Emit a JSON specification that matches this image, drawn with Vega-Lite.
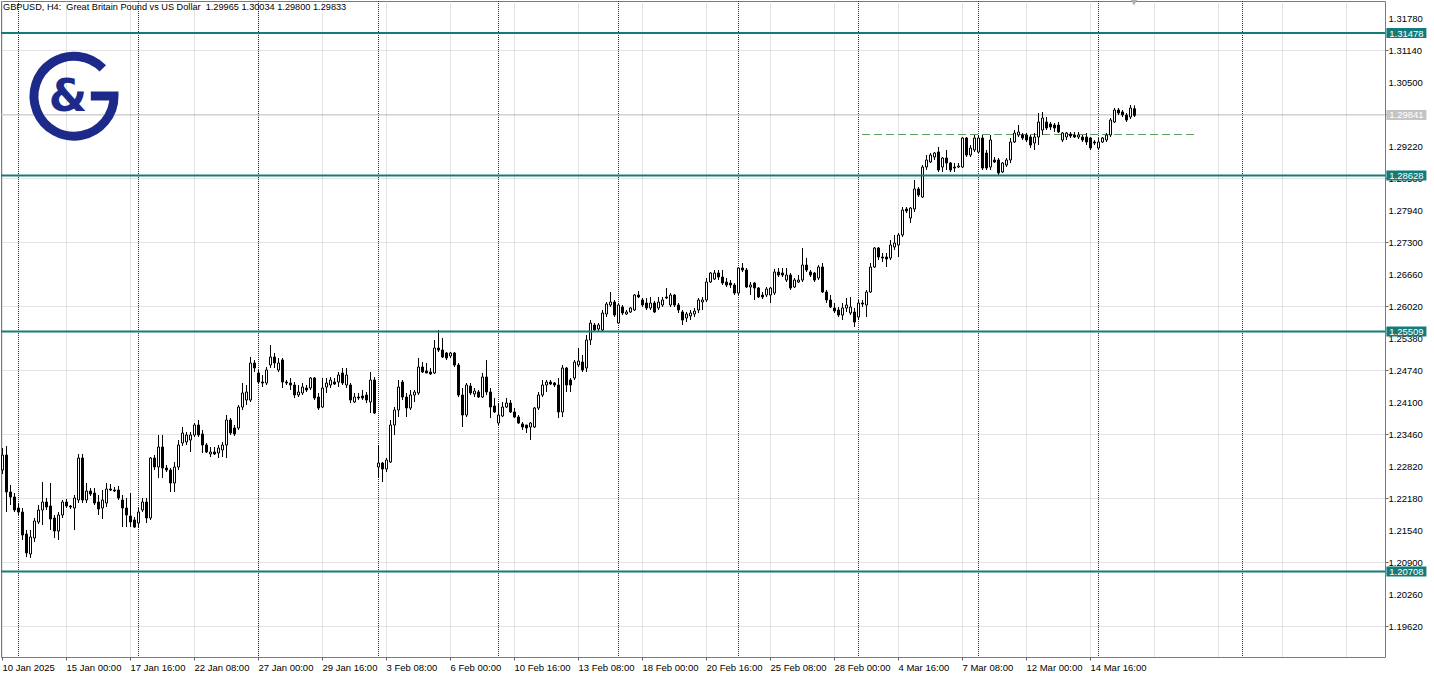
{
  "$schema": "https://vega.github.io/schema/vega-lite/v6.json",
  "width": 1384,
  "height": 656,
  "autosize": {"type": "none"},
  "padding": {"left": 1, "top": 1, "right": 49, "bottom": 17},
  "background": "#ffffff",
  "config": {
    "view": {"stroke": "#7a7a7a", "strokeWidth": 1},
    "font": "Liberation Sans",
    "axis": {"labelOverlap": false, "labelBound": false, "labelFlush": false},
    "scale": {"continuousPadding": 0}
  },
  "datasets": {
    "bars": [
      {"bar":-4,"o":1.2274,"h":1.2318,"l":1.2266,"c":1.2304},
      {"bar":-3,"o":1.2304,"h":1.2322,"l":1.2190,"c":1.2230},
      {"bar":-2,"o":1.2230,"h":1.2244,"l":1.2204,"c":1.2220},
      {"bar":-1,"o":1.2220,"h":1.2228,"l":1.2190,"c":1.2194},
      {"bar":0,"o":1.2198,"h":1.2208,"l":1.2184,"c":1.2190},
      {"bar":1,"o":1.2190,"h":1.2198,"l":1.2134,"c":1.2144},
      {"bar":2,"o":1.2146,"h":1.2154,"l":1.2100,"c":1.2108},
      {"bar":3,"o":1.2106,"h":1.2154,"l":1.2098,"c":1.2140},
      {"bar":4,"o":1.2138,"h":1.2178,"l":1.2130,"c":1.2172},
      {"bar":5,"o":1.2170,"h":1.2204,"l":1.2166,"c":1.2194},
      {"bar":6,"o":1.2194,"h":1.2250,"l":1.2164,"c":1.2210},
      {"bar":7,"o":1.2210,"h":1.2218,"l":1.2194,"c":1.2200},
      {"bar":8,"o":1.2202,"h":1.2248,"l":1.2154,"c":1.2176},
      {"bar":9,"o":1.2178,"h":1.2184,"l":1.2138,"c":1.2152},
      {"bar":10,"o":1.2152,"h":1.2190,"l":1.2134,"c":1.2184},
      {"bar":11,"o":1.2184,"h":1.2214,"l":1.2178,"c":1.2210},
      {"bar":12,"o":1.2210,"h":1.2216,"l":1.2198,"c":1.2202},
      {"bar":13,"o":1.2202,"h":1.2204,"l":1.2196,"c":1.2200},
      {"bar":14,"o":1.2198,"h":1.2224,"l":1.2154,"c":1.2218},
      {"bar":15,"o":1.2214,"h":1.2306,"l":1.2208,"c":1.2298},
      {"bar":16,"o":1.2298,"h":1.2306,"l":1.2208,"c":1.2214},
      {"bar":17,"o":1.2214,"h":1.2248,"l":1.2208,"c":1.2232},
      {"bar":18,"o":1.2232,"h":1.2238,"l":1.2222,"c":1.2226},
      {"bar":19,"o":1.2228,"h":1.2238,"l":1.2204,"c":1.2208},
      {"bar":20,"o":1.2210,"h":1.2224,"l":1.2184,"c":1.2196},
      {"bar":21,"o":1.2198,"h":1.2234,"l":1.2176,"c":1.2214},
      {"bar":22,"o":1.2208,"h":1.2248,"l":1.2200,"c":1.2236},
      {"bar":23,"o":1.2236,"h":1.2246,"l":1.2232,"c":1.2234},
      {"bar":24,"o":1.2234,"h":1.2240,"l":1.2230,"c":1.2232},
      {"bar":25,"o":1.2234,"h":1.2242,"l":1.2214,"c":1.2218},
      {"bar":26,"o":1.2214,"h":1.2224,"l":1.2160,"c":1.2198},
      {"bar":27,"o":1.2198,"h":1.2218,"l":1.2160,"c":1.2184},
      {"bar":28,"o":1.2182,"h":1.2228,"l":1.2160,"c":1.2170},
      {"bar":29,"o":1.2174,"h":1.2180,"l":1.2158,"c":1.2160},
      {"bar":30,"o":1.2168,"h":1.2198,"l":1.2158,"c":1.2190},
      {"bar":31,"o":1.2194,"h":1.2218,"l":1.2190,"c":1.2210},
      {"bar":32,"o":1.2210,"h":1.2218,"l":1.2168,"c":1.2178},
      {"bar":33,"o":1.2178,"h":1.2300,"l":1.2174,"c":1.2298},
      {"bar":34,"o":1.2298,"h":1.2304,"l":1.2274,"c":1.2280},
      {"bar":35,"o":1.2280,"h":1.2344,"l":1.2258,"c":1.2320},
      {"bar":36,"o":1.2320,"h":1.2344,"l":1.2258,"c":1.2278},
      {"bar":37,"o":1.2278,"h":1.2284,"l":1.2270,"c":1.2274},
      {"bar":38,"o":1.2274,"h":1.2278,"l":1.2230,"c":1.2248},
      {"bar":39,"o":1.2248,"h":1.2290,"l":1.2230,"c":1.2280},
      {"bar":40,"o":1.2280,"h":1.2334,"l":1.2274,"c":1.2324},
      {"bar":41,"o":1.2328,"h":1.2360,"l":1.2322,"c":1.2348},
      {"bar":42,"o":1.2330,"h":1.2350,"l":1.2324,"c":1.2344},
      {"bar":43,"o":1.2334,"h":1.2350,"l":1.2310,"c":1.2344},
      {"bar":44,"o":1.2344,"h":1.2368,"l":1.2340,"c":1.2364},
      {"bar":45,"o":1.2364,"h":1.2374,"l":1.2340,"c":1.2344},
      {"bar":46,"o":1.2346,"h":1.2354,"l":1.2308,"c":1.2324},
      {"bar":47,"o":1.2324,"h":1.2328,"l":1.2308,"c":1.2310},
      {"bar":48,"o":1.2306,"h":1.2320,"l":1.2300,"c":1.2310},
      {"bar":49,"o":1.2310,"h":1.2320,"l":1.2304,"c":1.2306},
      {"bar":50,"o":1.2308,"h":1.2324,"l":1.2298,"c":1.2318},
      {"bar":51,"o":1.2314,"h":1.2330,"l":1.2300,"c":1.2324},
      {"bar":52,"o":1.2324,"h":1.2384,"l":1.2298,"c":1.2374},
      {"bar":53,"o":1.2374,"h":1.2378,"l":1.2344,"c":1.2348},
      {"bar":54,"o":1.2358,"h":1.2364,"l":1.2342,"c":1.2346},
      {"bar":55,"o":1.2358,"h":1.2404,"l":1.2354,"c":1.2400},
      {"bar":56,"o":1.2400,"h":1.2448,"l":1.2394,"c":1.2428},
      {"bar":57,"o":1.2414,"h":1.2444,"l":1.2404,"c":1.2430},
      {"bar":58,"o":1.2414,"h":1.2500,"l":1.2410,"c":1.2488},
      {"bar":59,"o":1.2488,"h":1.2494,"l":1.2470,"c":1.2478},
      {"bar":60,"o":1.2468,"h":1.2474,"l":1.2446,"c":1.2450},
      {"bar":61,"o":1.2450,"h":1.2464,"l":1.2440,"c":1.2448},
      {"bar":62,"o":1.2448,"h":1.2480,"l":1.2444,"c":1.2474},
      {"bar":63,"o":1.2484,"h":1.2524,"l":1.2478,"c":1.2500},
      {"bar":64,"o":1.2500,"h":1.2508,"l":1.2478,"c":1.2488},
      {"bar":65,"o":1.2474,"h":1.2498,"l":1.2470,"c":1.2488},
      {"bar":66,"o":1.2494,"h":1.2498,"l":1.2438,"c":1.2450},
      {"bar":67,"o":1.2450,"h":1.2454,"l":1.2444,"c":1.2448},
      {"bar":68,"o":1.2448,"h":1.2458,"l":1.2434,"c":1.2444},
      {"bar":69,"o":1.2444,"h":1.2450,"l":1.2418,"c":1.2424},
      {"bar":70,"o":1.2424,"h":1.2444,"l":1.2420,"c":1.2430},
      {"bar":71,"o":1.2428,"h":1.2448,"l":1.2424,"c":1.2440},
      {"bar":72,"o":1.2438,"h":1.2444,"l":1.2430,"c":1.2434},
      {"bar":73,"o":1.2438,"h":1.2460,"l":1.2434,"c":1.2458},
      {"bar":74,"o":1.2458,"h":1.2460,"l":1.2414,"c":1.2418},
      {"bar":75,"o":1.2420,"h":1.2428,"l":1.2394,"c":1.2398},
      {"bar":76,"o":1.2400,"h":1.2458,"l":1.2398,"c":1.2438},
      {"bar":77,"o":1.2440,"h":1.2458,"l":1.2428,"c":1.2448},
      {"bar":78,"o":1.2444,"h":1.2460,"l":1.2438,"c":1.2454},
      {"bar":79,"o":1.2450,"h":1.2458,"l":1.2444,"c":1.2446},
      {"bar":80,"o":1.2450,"h":1.2470,"l":1.2440,"c":1.2464},
      {"bar":81,"o":1.2468,"h":1.2478,"l":1.2444,"c":1.2448},
      {"bar":82,"o":1.2444,"h":1.2478,"l":1.2438,"c":1.2464},
      {"bar":83,"o":1.2444,"h":1.2448,"l":1.2408,"c":1.2414},
      {"bar":84,"o":1.2410,"h":1.2428,"l":1.2408,"c":1.2420},
      {"bar":85,"o":1.2420,"h":1.2428,"l":1.2414,"c":1.2418},
      {"bar":86,"o":1.2422,"h":1.2434,"l":1.2414,"c":1.2418},
      {"bar":87,"o":1.2424,"h":1.2430,"l":1.2408,"c":1.2414},
      {"bar":88,"o":1.2410,"h":1.2470,"l":1.2388,"c":1.2454},
      {"bar":89,"o":1.2454,"h":1.2460,"l":1.2386,"c":1.2388},
      {"bar":90,"o":1.2280,"h":1.2324,"l":1.2258,"c":1.2288},
      {"bar":91,"o":1.2288,"h":1.2290,"l":1.2250,"c":1.2276},
      {"bar":92,"o":1.2276,"h":1.2298,"l":1.2270,"c":1.2294},
      {"bar":93,"o":1.2290,"h":1.2374,"l":1.2288,"c":1.2364},
      {"bar":94,"o":1.2364,"h":1.2400,"l":1.2344,"c":1.2394},
      {"bar":95,"o":1.2394,"h":1.2454,"l":1.2380,"c":1.2440},
      {"bar":96,"o":1.2450,"h":1.2454,"l":1.2414,"c":1.2420},
      {"bar":97,"o":1.2420,"h":1.2428,"l":1.2380,"c":1.2398},
      {"bar":98,"o":1.2398,"h":1.2434,"l":1.2394,"c":1.2424},
      {"bar":99,"o":1.2424,"h":1.2434,"l":1.2410,"c":1.2430},
      {"bar":100,"o":1.2428,"h":1.2498,"l":1.2424,"c":1.2480},
      {"bar":101,"o":1.2480,"h":1.2490,"l":1.2468,"c":1.2470},
      {"bar":102,"o":1.2472,"h":1.2488,"l":1.2468,"c":1.2468},
      {"bar":103,"o":1.2470,"h":1.2478,"l":1.2464,"c":1.2466},
      {"bar":104,"o":1.2468,"h":1.2534,"l":1.2466,"c":1.2518},
      {"bar":105,"o":1.2518,"h":1.2554,"l":1.2510,"c":1.2514},
      {"bar":106,"o":1.2514,"h":1.2538,"l":1.2498,"c":1.2500},
      {"bar":107,"o":1.2508,"h":1.2510,"l":1.2494,"c":1.2498},
      {"bar":108,"o":1.2502,"h":1.2510,"l":1.2498,"c":1.2508},
      {"bar":109,"o":1.2508,"h":1.2510,"l":1.2480,"c":1.2484},
      {"bar":110,"o":1.2484,"h":1.2488,"l":1.2420,"c":1.2424},
      {"bar":111,"o":1.2424,"h":1.2438,"l":1.2360,"c":1.2384},
      {"bar":112,"o":1.2384,"h":1.2448,"l":1.2380,"c":1.2444},
      {"bar":113,"o":1.2442,"h":1.2448,"l":1.2424,"c":1.2428},
      {"bar":114,"o":1.2426,"h":1.2438,"l":1.2420,"c":1.2432},
      {"bar":115,"o":1.2430,"h":1.2434,"l":1.2418,"c":1.2420},
      {"bar":116,"o":1.2420,"h":1.2468,"l":1.2418,"c":1.2460},
      {"bar":117,"o":1.2460,"h":1.2494,"l":1.2424,"c":1.2430},
      {"bar":118,"o":1.2430,"h":1.2438,"l":1.2378,"c":1.2400},
      {"bar":119,"o":1.2402,"h":1.2418,"l":1.2388,"c":1.2390},
      {"bar":120,"o":1.2368,"h":1.2408,"l":1.2364,"c":1.2384},
      {"bar":121,"o":1.2382,"h":1.2410,"l":1.2380,"c":1.2400},
      {"bar":122,"o":1.2400,"h":1.2418,"l":1.2398,"c":1.2408},
      {"bar":123,"o":1.2408,"h":1.2414,"l":1.2388,"c":1.2390},
      {"bar":124,"o":1.2390,"h":1.2398,"l":1.2378,"c":1.2380},
      {"bar":125,"o":1.2380,"h":1.2384,"l":1.2366,"c":1.2368},
      {"bar":126,"o":1.2366,"h":1.2370,"l":1.2354,"c":1.2360},
      {"bar":127,"o":1.2364,"h":1.2364,"l":1.2348,"c":1.2358},
      {"bar":128,"o":1.2360,"h":1.2370,"l":1.2334,"c":1.2368},
      {"bar":129,"o":1.2360,"h":1.2400,"l":1.2358,"c":1.2398},
      {"bar":130,"o":1.2398,"h":1.2430,"l":1.2394,"c":1.2424},
      {"bar":131,"o":1.2424,"h":1.2454,"l":1.2420,"c":1.2444},
      {"bar":132,"o":1.2444,"h":1.2454,"l":1.2430,"c":1.2450},
      {"bar":133,"o":1.2450,"h":1.2454,"l":1.2444,"c":1.2446},
      {"bar":134,"o":1.2448,"h":1.2450,"l":1.2440,"c":1.2444},
      {"bar":135,"o":1.2444,"h":1.2458,"l":1.2378,"c":1.2390},
      {"bar":136,"o":1.2390,"h":1.2484,"l":1.2380,"c":1.2478},
      {"bar":137,"o":1.2478,"h":1.2480,"l":1.2430,"c":1.2444},
      {"bar":138,"o":1.2454,"h":1.2458,"l":1.2430,"c":1.2444},
      {"bar":139,"o":1.2458,"h":1.2494,"l":1.2454,"c":1.2490},
      {"bar":140,"o":1.2484,"h":1.2518,"l":1.2480,"c":1.2492},
      {"bar":141,"o":1.2490,"h":1.2504,"l":1.2470,"c":1.2474},
      {"bar":142,"o":1.2478,"h":1.2544,"l":1.2470,"c":1.2534},
      {"bar":143,"o":1.2534,"h":1.2574,"l":1.2524,"c":1.2568},
      {"bar":144,"o":1.2564,"h":1.2568,"l":1.2550,"c":1.2554},
      {"bar":145,"o":1.2556,"h":1.2568,"l":1.2552,"c":1.2564},
      {"bar":146,"o":1.2554,"h":1.2594,"l":1.2550,"c":1.2588},
      {"bar":147,"o":1.2586,"h":1.2610,"l":1.2580,"c":1.2606},
      {"bar":148,"o":1.2604,"h":1.2630,"l":1.2600,"c":1.2610},
      {"bar":149,"o":1.2610,"h":1.2614,"l":1.2580,"c":1.2584},
      {"bar":150,"o":1.2568,"h":1.2608,"l":1.2566,"c":1.2604},
      {"bar":151,"o":1.2600,"h":1.2604,"l":1.2584,"c":1.2588},
      {"bar":152,"o":1.2586,"h":1.2594,"l":1.2584,"c":1.2590},
      {"bar":153,"o":1.2590,"h":1.2600,"l":1.2588,"c":1.2598},
      {"bar":154,"o":1.2594,"h":1.2626,"l":1.2592,"c":1.2624},
      {"bar":155,"o":1.2624,"h":1.2632,"l":1.2618,"c":1.2620},
      {"bar":156,"o":1.2614,"h":1.2618,"l":1.2600,"c":1.2604},
      {"bar":157,"o":1.2608,"h":1.2618,"l":1.2594,"c":1.2598},
      {"bar":158,"o":1.2598,"h":1.2620,"l":1.2594,"c":1.2608},
      {"bar":159,"o":1.2608,"h":1.2612,"l":1.2588,"c":1.2590},
      {"bar":160,"o":1.2598,"h":1.2620,"l":1.2594,"c":1.2610},
      {"bar":161,"o":1.2604,"h":1.2620,"l":1.2600,"c":1.2614},
      {"bar":162,"o":1.2620,"h":1.2638,"l":1.2616,"c":1.2618},
      {"bar":163,"o":1.2604,"h":1.2628,"l":1.2600,"c":1.2624},
      {"bar":164,"o":1.2624,"h":1.2626,"l":1.2600,"c":1.2604},
      {"bar":165,"o":1.2604,"h":1.2608,"l":1.2588,"c":1.2594},
      {"bar":166,"o":1.2590,"h":1.2594,"l":1.2564,"c":1.2574},
      {"bar":167,"o":1.2578,"h":1.2590,"l":1.2570,"c":1.2586},
      {"bar":168,"o":1.2582,"h":1.2594,"l":1.2574,"c":1.2588},
      {"bar":169,"o":1.2586,"h":1.2598,"l":1.2580,"c":1.2592},
      {"bar":170,"o":1.2594,"h":1.2618,"l":1.2588,"c":1.2614},
      {"bar":171,"o":1.2610,"h":1.2620,"l":1.2594,"c":1.2614},
      {"bar":172,"o":1.2614,"h":1.2658,"l":1.2610,"c":1.2650},
      {"bar":173,"o":1.2650,"h":1.2670,"l":1.2648,"c":1.2668},
      {"bar":174,"o":1.2656,"h":1.2674,"l":1.2654,"c":1.2668},
      {"bar":175,"o":1.2668,"h":1.2674,"l":1.2654,"c":1.2660},
      {"bar":176,"o":1.2660,"h":1.2674,"l":1.2644,"c":1.2648},
      {"bar":177,"o":1.2650,"h":1.2658,"l":1.2640,"c":1.2644},
      {"bar":178,"o":1.2648,"h":1.2654,"l":1.2638,"c":1.2644},
      {"bar":179,"o":1.2644,"h":1.2648,"l":1.2624,"c":1.2628},
      {"bar":180,"o":1.2628,"h":1.2680,"l":1.2624,"c":1.2678},
      {"bar":181,"o":1.2678,"h":1.2688,"l":1.2670,"c":1.2674},
      {"bar":182,"o":1.2674,"h":1.2678,"l":1.2638,"c":1.2640},
      {"bar":183,"o":1.2640,"h":1.2650,"l":1.2624,"c":1.2644},
      {"bar":184,"o":1.2648,"h":1.2650,"l":1.2614,"c":1.2638},
      {"bar":185,"o":1.2638,"h":1.2640,"l":1.2618,"c":1.2620},
      {"bar":186,"o":1.2624,"h":1.2630,"l":1.2616,"c":1.2620},
      {"bar":187,"o":1.2624,"h":1.2640,"l":1.2620,"c":1.2636},
      {"bar":188,"o":1.2624,"h":1.2640,"l":1.2608,"c":1.2638},
      {"bar":189,"o":1.2628,"h":1.2676,"l":1.2624,"c":1.2670},
      {"bar":190,"o":1.2670,"h":1.2678,"l":1.2660,"c":1.2664},
      {"bar":191,"o":1.2668,"h":1.2678,"l":1.2660,"c":1.2664},
      {"bar":192,"o":1.2654,"h":1.2678,"l":1.2650,"c":1.2664},
      {"bar":193,"o":1.2664,"h":1.2668,"l":1.2634,"c":1.2638},
      {"bar":194,"o":1.2640,"h":1.2658,"l":1.2638,"c":1.2654},
      {"bar":195,"o":1.2650,"h":1.2664,"l":1.2648,"c":1.2654},
      {"bar":196,"o":1.2654,"h":1.2718,"l":1.2650,"c":1.2684},
      {"bar":197,"o":1.2684,"h":1.2698,"l":1.2670,"c":1.2674},
      {"bar":198,"o":1.2670,"h":1.2674,"l":1.2660,"c":1.2664},
      {"bar":199,"o":1.2668,"h":1.2670,"l":1.2650,"c":1.2654},
      {"bar":200,"o":1.2658,"h":1.2684,"l":1.2654,"c":1.2680},
      {"bar":201,"o":1.2680,"h":1.2688,"l":1.2628,"c":1.2630},
      {"bar":202,"o":1.2630,"h":1.2634,"l":1.2608,"c":1.2614},
      {"bar":203,"o":1.2614,"h":1.2624,"l":1.2598,"c":1.2600},
      {"bar":204,"o":1.2598,"h":1.2608,"l":1.2588,"c":1.2592},
      {"bar":205,"o":1.2594,"h":1.2600,"l":1.2580,"c":1.2584},
      {"bar":206,"o":1.2584,"h":1.2608,"l":1.2574,"c":1.2598},
      {"bar":207,"o":1.2598,"h":1.2618,"l":1.2590,"c":1.2604},
      {"bar":208,"o":1.2588,"h":1.2620,"l":1.2584,"c":1.2600},
      {"bar":209,"o":1.2590,"h":1.2598,"l":1.2560,"c":1.2570},
      {"bar":210,"o":1.2580,"h":1.2614,"l":1.2574,"c":1.2608},
      {"bar":211,"o":1.2608,"h":1.2614,"l":1.2600,"c":1.2606},
      {"bar":212,"o":1.2604,"h":1.2634,"l":1.2580,"c":1.2630},
      {"bar":213,"o":1.2630,"h":1.2688,"l":1.2628,"c":1.2680},
      {"bar":214,"o":1.2680,"h":1.2720,"l":1.2678,"c":1.2718},
      {"bar":215,"o":1.2718,"h":1.2720,"l":1.2694,"c":1.2700},
      {"bar":216,"o":1.2700,"h":1.2708,"l":1.2690,"c":1.2698},
      {"bar":217,"o":1.2700,"h":1.2708,"l":1.2680,"c":1.2696},
      {"bar":218,"o":1.2698,"h":1.2734,"l":1.2694,"c":1.2724},
      {"bar":219,"o":1.2720,"h":1.2744,"l":1.2714,"c":1.2728},
      {"bar":220,"o":1.2724,"h":1.2748,"l":1.2700,"c":1.2744},
      {"bar":221,"o":1.2744,"h":1.2800,"l":1.2740,"c":1.2794},
      {"bar":222,"o":1.2796,"h":1.2800,"l":1.2788,"c":1.2792},
      {"bar":223,"o":1.2778,"h":1.2800,"l":1.2768,"c":1.2798},
      {"bar":224,"o":1.2796,"h":1.2854,"l":1.2790,"c":1.2836},
      {"bar":225,"o":1.2836,"h":1.2840,"l":1.2820,"c":1.2824},
      {"bar":226,"o":1.2820,"h":1.2884,"l":1.2818,"c":1.2880},
      {"bar":227,"o":1.2880,"h":1.2904,"l":1.2874,"c":1.2894},
      {"bar":228,"o":1.2890,"h":1.2908,"l":1.2888,"c":1.2904},
      {"bar":229,"o":1.2900,"h":1.2910,"l":1.2894,"c":1.2908},
      {"bar":230,"o":1.2910,"h":1.2920,"l":1.2870,"c":1.2874},
      {"bar":231,"o":1.2880,"h":1.2900,"l":1.2870,"c":1.2898},
      {"bar":232,"o":1.2898,"h":1.2914,"l":1.2874,"c":1.2888},
      {"bar":233,"o":1.2888,"h":1.2890,"l":1.2870,"c":1.2874},
      {"bar":234,"o":1.2880,"h":1.2888,"l":1.2870,"c":1.2878},
      {"bar":235,"o":1.2880,"h":1.2888,"l":1.2878,"c":1.2882},
      {"bar":236,"o":1.2880,"h":1.2940,"l":1.2878,"c":1.2938},
      {"bar":237,"o":1.2938,"h":1.2940,"l":1.2900,"c":1.2904},
      {"bar":238,"o":1.2904,"h":1.2924,"l":1.2900,"c":1.2918},
      {"bar":239,"o":1.2914,"h":1.2944,"l":1.2910,"c":1.2938},
      {"bar":240,"o":1.2910,"h":1.2944,"l":1.2908,"c":1.2938},
      {"bar":241,"o":1.2938,"h":1.2944,"l":1.2874,"c":1.2878},
      {"bar":242,"o":1.2908,"h":1.2914,"l":1.2874,"c":1.2878},
      {"bar":243,"o":1.2880,"h":1.2944,"l":1.2874,"c":1.2934},
      {"bar":244,"o":1.2894,"h":1.2900,"l":1.2888,"c":1.2890},
      {"bar":245,"o":1.2894,"h":1.2898,"l":1.2864,"c":1.2868},
      {"bar":246,"o":1.2870,"h":1.2890,"l":1.2868,"c":1.2888},
      {"bar":247,"o":1.2884,"h":1.2898,"l":1.2880,"c":1.2894},
      {"bar":248,"o":1.2894,"h":1.2938,"l":1.2888,"c":1.2930},
      {"bar":249,"o":1.2930,"h":1.2954,"l":1.2928,"c":1.2948},
      {"bar":250,"o":1.2944,"h":1.2964,"l":1.2940,"c":1.2950},
      {"bar":251,"o":1.2944,"h":1.2948,"l":1.2934,"c":1.2938},
      {"bar":252,"o":1.2944,"h":1.2948,"l":1.2930,"c":1.2934},
      {"bar":253,"o":1.2940,"h":1.2944,"l":1.2918,"c":1.2924},
      {"bar":254,"o":1.2928,"h":1.2948,"l":1.2914,"c":1.2940},
      {"bar":255,"o":1.2940,"h":1.2988,"l":1.2924,"c":1.2970},
      {"bar":256,"o":1.2954,"h":1.2990,"l":1.2944,"c":1.2978},
      {"bar":257,"o":1.2970,"h":1.2980,"l":1.2954,"c":1.2958},
      {"bar":258,"o":1.2966,"h":1.2970,"l":1.2954,"c":1.2960},
      {"bar":259,"o":1.2964,"h":1.2968,"l":1.2950,"c":1.2958},
      {"bar":260,"o":1.2964,"h":1.2970,"l":1.2948,"c":1.2950},
      {"bar":261,"o":1.2934,"h":1.2950,"l":1.2930,"c":1.2948},
      {"bar":262,"o":1.2940,"h":1.2950,"l":1.2934,"c":1.2948},
      {"bar":263,"o":1.2946,"h":1.2950,"l":1.2938,"c":1.2942},
      {"bar":264,"o":1.2944,"h":1.2950,"l":1.2938,"c":1.2940},
      {"bar":265,"o":1.2940,"h":1.2950,"l":1.2936,"c":1.2944},
      {"bar":266,"o":1.2940,"h":1.2944,"l":1.2930,"c":1.2934},
      {"bar":267,"o":1.2940,"h":1.2948,"l":1.2924,"c":1.2930},
      {"bar":268,"o":1.2938,"h":1.2940,"l":1.2914,"c":1.2918},
      {"bar":269,"o":1.2930,"h":1.2934,"l":1.2924,"c":1.2928},
      {"bar":270,"o":1.2918,"h":1.2938,"l":1.2914,"c":1.2930},
      {"bar":271,"o":1.2930,"h":1.2940,"l":1.2928,"c":1.2938},
      {"bar":272,"o":1.2934,"h":1.2948,"l":1.2930,"c":1.2944},
      {"bar":273,"o":1.2944,"h":1.2978,"l":1.2940,"c":1.2974},
      {"bar":274,"o":1.2970,"h":1.2998,"l":1.2968,"c":1.2994},
      {"bar":275,"o":1.2994,"h":1.2998,"l":1.2984,"c":1.2988},
      {"bar":276,"o":1.2990,"h":1.2994,"l":1.2980,"c":1.2984},
      {"bar":277,"o":1.2984,"h":1.2988,"l":1.2970,"c":1.2974},
      {"bar":278,"o":1.2980,"h":1.3004,"l":1.2976,"c":1.2998},
      {"bar":279,"o":1.29965,"h":1.30034,"l":1.29800,"c":1.29833}
    ],
    "separators": [{"bar":0},{"bar":30},{"bar":60},{"bar":90},{"bar":120},{"bar":150},{"bar":180},{"bar":210},{"bar":240},{"bar":270},{"bar":306}],
    "levels": [{"level":1.31478},{"level":1.28628},{"level":1.25509},{"level":1.20708}],
    "bid": [{"price":1.29841}],
    "trend": [{"from":211,"to":294,"price":1.2945}],
    "priceTicks": [{"p":1.1962},{"p":1.2026},{"p":1.2090},{"p":1.2154},{"p":1.2218},{"p":1.2282},{"p":1.2346},{"p":1.2410},{"p":1.2474},{"p":1.2538},{"p":1.2602},{"p":1.2666},{"p":1.2730},{"p":1.2794},{"p":1.2858},{"p":1.2922},{"p":1.2986},{"p":1.3050},{"p":1.3114},{"p":1.3178}]
  },
  "layer": [
    {
      "data": {"name": "bars"},
      "mark": {"type": "rule", "color": "#000000", "strokeWidth": 1, "xOffset": 0.5, "opacity": 0},
      "encoding": {
        "x": {"field": "bar", "type": "quantitative", "title": null,
          "scale": {"domain": [-4.25, 341.75], "nice": false, "zero": false, "padding": 0},
          "axis": {
            "orient": "bottom", "title": null,
            "values": [-4,4,12,20,28,36,44,52,60,68,76,84,92,100,108,116,124,132,140,148,156,164,172,180,188,196,204,212,220,228,236,244,252,260,268,276,284,292,300,308,316,324,332,340],
            "grid": true, "gridColor": "#c8c8c8", "gridDash": [1, 1], "gridWidth": 1,
            "domain": false,
            "ticks": true, "tickSize": 3, "tickColor": "#606060",
            "tickOpacity": {"condition": {"test": "(datum.value + 4) % 16 == 0 && datum.value <= 268", "value": 1}, "value": 0},
            "labelExpr": "(datum.value + 4) % 16 == 0 && datum.value <= 268 ? ['10 Jan 2025','15 Jan 00:00','17 Jan 16:00','22 Jan 08:00','27 Jan 00:00','29 Jan 16:00','3 Feb 08:00','6 Feb 00:00','10 Feb 16:00','13 Feb 08:00','18 Feb 00:00','20 Feb 16:00','25 Feb 08:00','28 Feb 00:00','4 Mar 16:00','7 Mar 08:00','12 Mar 00:00','14 Mar 16:00'][(datum.value + 4) / 16] : ''",
            "labelAlign": "left", "labelBaseline": "top", "labelPadding": 2,
            "labelFont": "Liberation Sans", "labelFontSize": 9.5, "labelColor": "#000000",
            "labelOverlap": false, "labelFlush": false, "labelBound": false
          }
        },
        "y": {"field": "l", "type": "quantitative", "title": null,
          "scale": {"domain": [1.19, 1.3212], "nice": false, "zero": false, "padding": 0},
          "axis": {
            "orient": "right", "title": null,
            "values": [1.1962, 1.2026, 1.209, 1.2154, 1.2218, 1.2282, 1.2346, 1.241, 1.2474, 1.2538, 1.2602, 1.2666, 1.273, 1.2794, 1.2858, 1.2922, 1.2986, 1.305, 1.3114, 1.3178],
            "grid": true, "gridColor": "#c8c8c8", "gridDash": [1, 1], "gridWidth": 1,
            "domain": false,
            "ticks": true, "tickSize": 3, "tickColor": "#606060",
            "labels": false
          }
        }
      }
    },
    {
      "data": {"name": "priceTicks"},
      "mark": {"type": "text", "color": "#000000", "font": "Liberation Sans", "fontSize": 9.5, "align": "left", "baseline": "middle", "dx": 3.5, "dy": 0.5},
      "encoding": {
        "x": {"datum": 341.75, "type": "quantitative", "title": null},
        "y": {"field": "p", "type": "quantitative", "title": null},
        "text": {"field": "p", "type": "quantitative", "format": ".5f"}
      }
    },
    {
      "data": {"name": "separators"},
      "mark": {"type": "rule", "color": "#303030", "strokeWidth": 1, "strokeDash": [1, 1], "xOffset": 0.5},
      "encoding": {
        "x": {"field": "bar", "type": "quantitative", "title": null}
      }
    },
    {
      "data": {"name": "bid"},
      "mark": {"type": "rule", "color": "#c4c4c4", "strokeWidth": 1},
      "encoding": {
        "y": {"field": "price", "type": "quantitative", "title": null}
      }
    },
    {
      "data": {"name": "trend"},
      "mark": {"type": "rule", "color": "#5c9e5c", "strokeWidth": 1, "strokeDash": [8, 4]},
      "encoding": {
        "x": {"field": "from", "type": "quantitative", "title": null},
        "x2": {"field": "to"},
        "y": {"field": "price", "type": "quantitative", "title": null}
      }
    },
    {
      "data": {"name": "bars"},
      "mark": {"type": "rule", "color": "#000000", "strokeWidth": 1, "xOffset": 0.5},
      "encoding": {
        "x": {"field": "bar", "type": "quantitative", "title": null},
        "y": {"field": "l", "type": "quantitative", "title": null},
        "y2": {"field": "h"}
      }
    },
    {
      "data": {"name": "bars"},
      "mark": {"type": "bar", "orient": "vertical", "width": 2, "stroke": "#000000", "strokeWidth": 1, "xOffset": 0.5},
      "encoding": {
        "x": {"field": "bar", "type": "quantitative", "title": null},
        "y": {"field": "o", "type": "quantitative", "title": null},
        "y2": {"field": "c"},
        "fill": {"condition": {"test": "datum.c < datum.o", "value": "#000000"}, "value": "#ffffff"}
      }
    },
    {
      "data": {"name": "levels"},
      "mark": {"type": "rule", "color": "#137c7a", "strokeWidth": 2},
      "encoding": {
        "y": {"field": "level", "type": "quantitative", "title": null}
      }
    },
    {
      "data": {"name": "levels"},
      "mark": {"type": "point", "shape": "M-1,-0.25L1,-0.25L1,0.25L-1,0.25Z", "size": 1600, "filled": true, "color": "#137c7a", "opacity": 1, "strokeWidth": 0},
      "encoding": {
        "x": {"datum": 347.1, "type": "quantitative", "title": null},
        "y": {"field": "level", "type": "quantitative", "title": null}
      }
    },
    {
      "data": {"name": "levels"},
      "mark": {"type": "text", "color": "#ffffff", "font": "Liberation Sans", "fontSize": 9.5, "align": "center", "baseline": "middle", "dy": 0.5},
      "encoding": {
        "x": {"datum": 347.1, "type": "quantitative", "title": null},
        "y": {"field": "level", "type": "quantitative", "title": null},
        "text": {"field": "level", "type": "quantitative", "format": ".5f"}
      }
    },
    {
      "data": {"name": "bid"},
      "mark": {"type": "point", "shape": "M-1,-0.25L1,-0.25L1,0.25L-1,0.25Z", "size": 1600, "filled": true, "color": "#c4c4c4", "opacity": 1, "strokeWidth": 0},
      "encoding": {
        "x": {"datum": 347.1, "type": "quantitative", "title": null},
        "y": {"field": "price", "type": "quantitative", "title": null}
      }
    },
    {
      "data": {"name": "bid"},
      "mark": {"type": "text", "color": "#ffffff", "font": "Liberation Sans", "fontSize": 9.5, "align": "center", "baseline": "middle", "dy": 0.5},
      "encoding": {
        "x": {"datum": 347.1, "type": "quantitative", "title": null},
        "y": {"field": "price", "type": "quantitative", "title": null},
        "text": {"field": "price", "type": "quantitative", "format": ".5f"}
      }
    },
    {
      "data": {"values": [{}]},
      "mark": {"type": "point", "shape": "triangle-down", "size": 50, "filled": true, "color": "#b0b0b0", "opacity": 1},
      "encoding": {
        "x": {"datum": 279, "type": "quantitative", "title": null},
        "y": {"datum": 1.3209, "type": "quantitative", "title": null}
      }
    },
    {
      "data": {"values": [{}]},
      "mark": {"type": "point", "shape": "M0.72,-0.69A1,1,0,1,0,1,0L0.42,0", "size": 6400, "filled": false, "stroke": "#1e2a8a", "strokeWidth": 9, "opacity": 1},
      "encoding": {
        "x": {"datum": 14, "type": "quantitative", "title": null},
        "y": {"datum": 1.3022, "type": "quantitative", "title": null}
      }
    },
    {
      "data": {"values": [{}]},
      "mark": {"type": "text", "text": "&", "font": "DejaVu Sans", "fontWeight": "bold", "fontSize": 44, "color": "#1e2a8a", "align": "center", "baseline": "middle", "dx": -6, "dy": 2},
      "encoding": {
        "x": {"datum": 14, "type": "quantitative", "title": null},
        "y": {"datum": 1.3022, "type": "quantitative", "title": null}
      }
    },
    {
      "data": {"values": [{}]},
      "mark": {"type": "text", "text": "GBPUSD, H4:\u00a0 Great Britain Pound vs US Dollar\u00a0 1.29965 1.30034 1.29800 1.29833", "font": "Liberation Sans", "fontSize": 9.2, "color": "#000000", "align": "left", "baseline": "top", "dx": 2, "dy": 2},
      "encoding": {
        "x": {"datum": -4.25, "type": "quantitative", "title": null},
        "y": {"datum": 1.3212, "type": "quantitative", "title": null}
      }
    }
  ]
}
